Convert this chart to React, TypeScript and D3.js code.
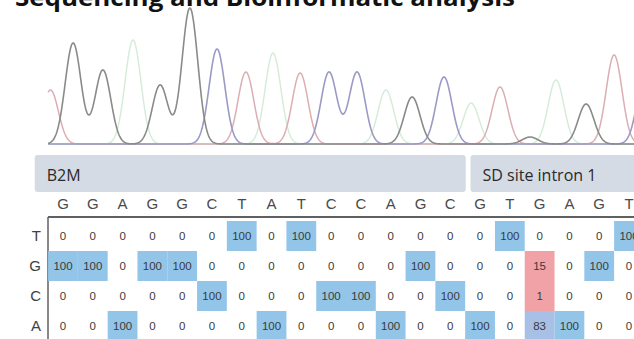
import React from "react";
import * as d3 from "d3";

// ---- data ----
const sequence = ["G","G","A","G","G","C","T","A","T","C","C","A","G","C","G","T","G","A","G","T"];
const rowBases = ["T","G","C","A"];
const rowT = [0,0,0,0,0,0,100,0,100,0,0,0,0,0,0,100,0,0,0,100];
const rowG = [100,100,0,100,100,0,0,0,0,0,0,0,100,0,0,0,15,0,100,0];
const rowC = [0,0,0,0,0,100,0,0,0,100,100,0,0,100,0,0,1,0,0,0];
const rowA = [0,0,100,0,0,0,0,100,0,0,0,100,0,0,100,0,83,100,0,0];
const regions = ["B2M", "SD site intron 1"];
const regionStart = [-0.95, 13.68];
const regionEnd = [13.52, 19.6];

// chromatogram peaks (position in base-call units, signal height)
const peakChannel = ["T","G","G","A","G","G","C","T","A","T","C","C","A","G","C","A","T","G","A","G","T","C"];
const peakPos = [-0.42,0.34,1.34,2.35,3.26,4.26,5.17,6.14,7.05,7.96,8.93,9.87,10.84,11.72,12.79,13.70,14.67,15.68,16.55,17.56,18.50,19.54];
const peakHeight = [540,1010,740,1040,590,1360,950,720,910,710,720,720,540,470,670,410,570,70,640,400,890,700];
const channels = ["A","T","C","G"];

const W = 634, H = 339;

export default function App() {
  const x = d3.scaleLinear().domain([0, 19]).range([63, 629]);
  const yTrace = d3.scaleLinear().domain([0, 1400]).range([144, 4]);
  const colW = x(1) - x(0);
  const rowY = d3.scaleBand().domain(rowBases).range([221, 341]);
  const rowH = rowY.bandwidth();
  const rows = [rowT, rowG, rowC, rowA];

  const traceColor: Record<string, string> = { A: "#d3ecd9", T: "#dcaeb4", C: "#9a9ac6", G: "#8a8a8a" };
  const traceWidth: Record<string, number> = { A: 1.4, T: 1.5, C: 1.6, G: 1.6 };
  const sigma = 0.265;
  const xs = d3.range(-0.5, 19.8, 0.02);
  const line = d3.line<[number, number]>().x(d => x(d[0])).y(d => yTrace(d[1])).curve(d3.curveLinear);
  const traces = channels.map(ch => {
    const pts: [number, number][] = xs.map(t => {
      let s = 0;
      peakPos.forEach((p, i) => {
        if (peakChannel[i] === ch) s += peakHeight[i] * Math.exp(-((t - p) ** 2) / (2 * sigma * sigma));
      });
      return [t, s];
    });
    return { ch, d: line(pts) || "" };
  });

  const cellFill = (v: number) => {
    if (v >= 90) return "#93c5e8";
    if (v >= 50) return "#a8bfe6";
    if (v > 0) return "#f0a2a6";
    return null;
  };

  return (
    <svg width={W} height={H} style={{ position: "absolute", left: 0, top: 0, background: "#fff" }}>
      <text x={15} y={6} fontFamily="'Open Sans', sans-serif" fontWeight={700} fontSize={24} fill="#111" textLength={500} lengthAdjust="spacingAndGlyphs">
        Sequencing and Bioinformatic analysis
      </text>

      {/* chromatogram */}
      <line x1={48} x2={W} y1={yTrace(0)} y2={yTrace(0)} stroke="#a8a8a8" strokeWidth={1.4} />
      {traces.map(t => (
        <path key={t.ch} d={t.d} fill="none" stroke={traceColor[t.ch]} strokeWidth={traceWidth[t.ch]} strokeLinejoin="round" />
      ))}

      {/* region bands */}
      {regions.map((r, i) => (
        <g key={r}>
          <rect x={x(regionStart[i])} y={155} width={x(regionEnd[i]) - x(regionStart[i])} height={37} rx={3} fill="#d5dbe4" />
          <text x={x(regionStart[i]) + 12} y={181} fontFamily="'Open Sans', sans-serif" fontSize={16} fill="#2a2a2a">{r}</text>
        </g>
      ))}

      {/* header bases */}
      {sequence.map((b, i) => (
        <text key={i} x={x(i)} y={209} textAnchor="middle" fontFamily="'Liberation Sans', Arial, sans-serif" fontSize={15} fill="#4a4a4a">{b}</text>
      ))}
      <line x1={48} x2={W} y1={217} y2={217} stroke="#606060" strokeWidth={2} />
      <line x1={48} x2={48} y1={217} y2={H} stroke="#606060" strokeWidth={1.5} />

      {/* row labels */}
      {rowBases.map(b => (
        <text key={b} x={41} y={(rowY(b) as number) + rowH / 2 + 5} textAnchor="end" fontFamily="'Liberation Sans', Arial, sans-serif" fontSize={15} fill="#404040">{b}</text>
      ))}

      {/* cells */}
      {rows.map((vals, ri) => {
        const y0 = rowY(rowBases[ri]) as number;
        return (
          <g key={ri}>
            {vals.map((v, ci) => {
              const f = cellFill(v);
              return (
                <g key={ci}>
                  {f && <rect x={x(ci) - colW / 2} y={y0} width={colW} height={rowH} fill={f} />}
                  <text x={x(ci)} y={y0 + rowH / 2 + 4} textAnchor="middle" fontFamily="'Liberation Sans', Arial, sans-serif" fontSize={11.5} fill="#3a3a3a">{v}</text>
                </g>
              );
            })}
          </g>
        );
      })}
    </svg>
  );
}
